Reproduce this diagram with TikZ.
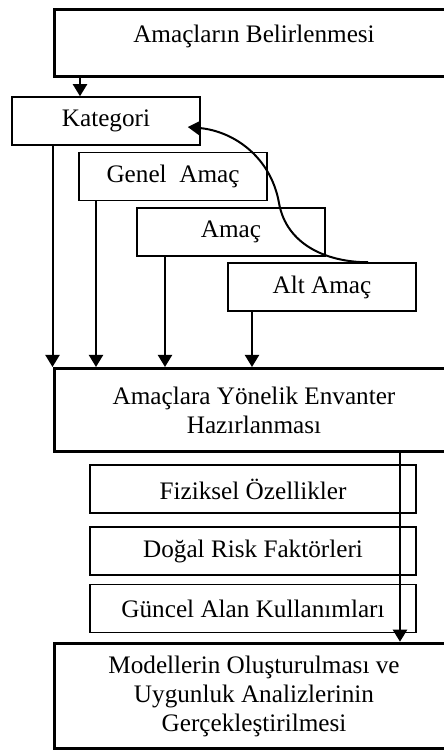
\documentclass[tikz,border=0pt]{standalone}
\usepackage{fontspec}
\setmainfont{Liberation Serif}
\usepackage{tikz}
\usetikzlibrary{arrows.meta,calc}
\tikzset{
  ambig/.style={draw=black, line width=1.5pt, fill=white, align=center, minimum width=200pt, inner sep=3pt, font=\fontsize{12.6}{14.5}\selectfont},
  amsmall/.style={draw=black, line width=0.75pt, fill=white, align=center, minimum width=94pt, minimum height=24pt, inner sep=2pt, font=\fontsize{12.6}{14.5}\selectfont},
  amwide/.style={draw=black, line width=0.75pt, fill=white, align=center, minimum width=163pt, minimum height=24pt, inner sep=2pt, font=\fontsize{12.6}{14.5}\selectfont},
  amline/.style={-{Triangle[length=6pt,width=7pt]}, line width=1pt}
}
\begin{document}
\begin{tikzpicture}[x=0.5pt,y=0.5pt]
  \useasboundingbox (0,0) rectangle (444,751);

  \node[ambig, inner ysep=0pt, text height=16.6pt, text depth=16.6pt] (goal) at (254,708) {Amaçların Belirlenmesi};

  \node[amsmall] (kat) at (106,630) {Kategori};
  \node[amsmall] (gen) at (173,574.5) {Genel\ \ Amaç};
  \node[amsmall] (ama) at (231,519) {Amaç};
  \node[amsmall] (alt) at (322,464) {Alt Amaç};

  \node[ambig, minimum height=41.5pt] (inv) at (254,341) {Amaçlara Yönelik Envanter\\Hazırlanması};

  \node[amwide] (fiz) at (253,262) {Fiziksel Özellikler};
  \node[amwide] (dog) at (253,200) {Doğal Risk Faktörleri};
  \node[amwide] (gun) at (253,142.5) {Güncel Alan Kullanımları};

  \node[ambig, minimum height=52.75pt] (mod) at (254,55) {Modellerin Oluşturulması ve\\Uygunluk Analizlerinin\\Gerçekleştirilmesi};

  % goal -> category
  \coordinate (k1) at ([xshift=-13pt]kat.north);
  \draw[amline] (k1 |- goal.south) -- (k1);

  % levels -> inventory
  \draw[amline] (kat.south -| inv.north west) -- (inv.north west);
  \coordinate (g1) at ([xshift=-38.5pt]gen.south);
  \coordinate (a1) at ([xshift=-33pt]ama.south);
  \coordinate (s1) at ([xshift=-35pt]alt.south);
  \foreach \c in {g1,a1,s1}
    \draw[amline] (\c) -- (\c |- inv.north);

  % feedback curve
  \coordinate (bend) at (279,548);
  \draw[amline] ([xshift=23pt]alt.north) to[out=180,in=-80] (bend)
    to[out=100,in=-5] ([xshift=-6.5pt,yshift=-3pt]kat.east);

  % inventory -> models
  \coordinate (d1) at ([xshift=73pt]inv.south);
  \draw[amline] (d1) -- (d1 |- mod.north);
\end{tikzpicture}
\end{document}
